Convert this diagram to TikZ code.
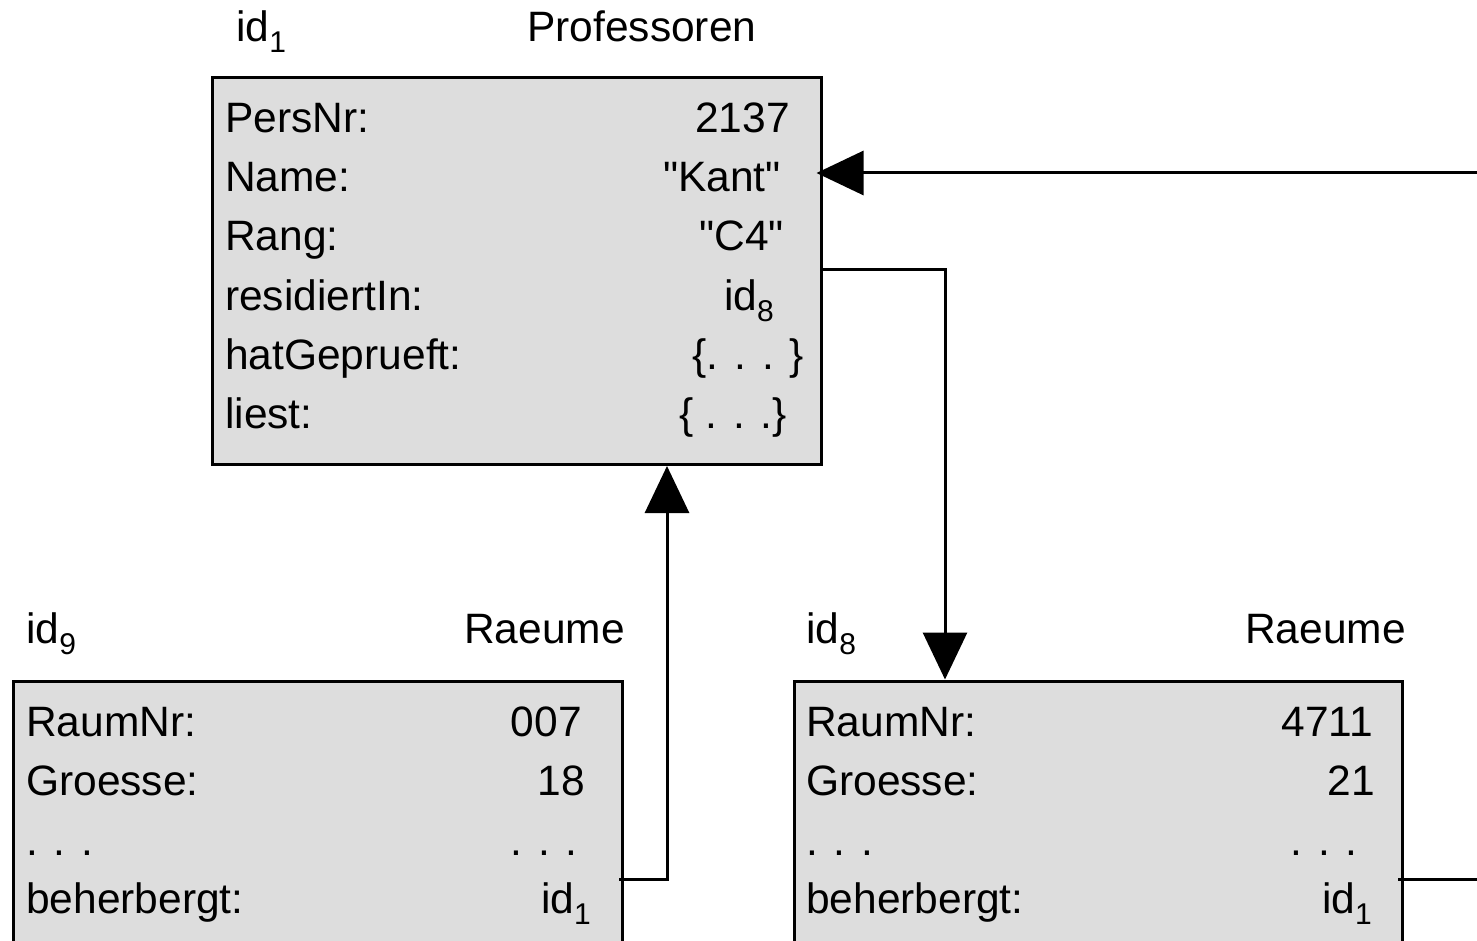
\documentclass[tikz,border=0pt]{standalone}
\usepackage{fontspec}
\newfontfamily\diagfont{Liberation Sans}
\usetikzlibrary{arrows.meta}
\definecolor{boxgray}{RGB}{221,221,221}
\newcommand\idsub[1]{\raisebox{-11pt}{\fontsize{30}{32}\selectfont #1}}
\tikzset{
  objbox/.style={draw=black, fill=boxgray, line width=3pt, rectangle, inner sep=0pt},
  lbl/.style={font=\diagfont\fontsize{42.5}{50}\selectfont, inner sep=0pt, anchor=base west},
  val/.style={font=\diagfont\fontsize{42.5}{50}\selectfont, inner sep=0pt, anchor=base east},
  conn/.style={draw=black, line width=3pt},
  arr/.style={conn, -{Triangle[length=47pt,width=44pt]}}
}
\begin{document}
\begin{tikzpicture}[x=1pt,y=-1pt]
\clip (0,0) rectangle (1477,941);
\fill[white] (0,0) rectangle (1477,941);

% boxes
\node[objbox, minimum width=609pt, minimum height=386.5pt] (prof) at (516.5,271.25) {};
\node[objbox, minimum width=608.5pt, minimum height=330pt] (r9) at (317.75,846) {};
\node[objbox, minimum width=608pt, minimum height=330pt] (r8) at (1098.5,846) {};

% headers
\node[lbl] (h1id) at (236,42) {id\idsub{1}};
\node[lbl] (h1name) at (527,42) {Professoren};
\node[lbl] (h9id) at (26,643) {id\idsub{9}};
\node[val] (h9name) at (625,643) {Raeume};
\node[lbl] (h8id) at (806,643) {id\idsub{8}};
\node[val] (h8name) at (1406,643) {Raeume};

% Professoren attributes
\node[lbl] (pa1) at (225,133) {PersNr:};
\node[lbl] (pa2) at (225,192) {Name:};
\node[lbl] (pa3) at (225,251) {Rang:};
\node[lbl] (pa4) at (225,310) {residiertIn:};
\node[lbl] (pa5) at (225,369) {hatGeprueft:};
\node[lbl] (pa6) at (225,428) {liest:};
\node[val] (pv1) at (790,133) {2137};
\node[val] (pv2) at (781,192) {"Kant"};
\node[val] (pv3) at (784,251) {"C4"};
\node[val] (pv4) at (774,310) {id\idsub{8}};
\node[val] (pv5) at (804,369) {\{. . . \}};
\node[val] (pv6) at (787,428) {\{ . . .\}};

% Raeume id9
\node[lbl] (la1) at (26,736) {RaumNr:};
\node[lbl] (la2) at (26,795) {Groesse:};
\node[lbl] (la3) at (26,855) {. . .};
\node[lbl] (la4) at (26,913) {beherbergt:};
\node[val] (lv1) at (582,736) {007};
\node[val] (lv2) at (585,795) {18};
\node[val] (lv3) at (578,855) {. . .};
\node[val] (lv4) at (591,913) {id\idsub{1}};

% Raeume id8
\node[lbl] (ra1) at (806,736) {RaumNr:};
\node[lbl] (ra2) at (806,795) {Groesse:};
\node[lbl] (ra3) at (806,855) {. . .};
\node[lbl] (ra4) at (806,913) {beherbergt:};
\node[val] (rv1) at (1373,736) {4711};
\node[val] (rv2) at (1375,795) {21};
\node[val] (rv3) at (1358,855) {. . .};
\node[val] (rv4) at (1372,913) {id\idsub{1}};

% connector end points
\coordinate (kantin) at (1490,173);
\coordinate (resout) at (821,270);
\coordinate (r8top) at (945,681);
\coordinate (b9out) at (619,879);
\coordinate (profbot) at (667,464.5);
\coordinate (b8out) at (1398,879);
\coordinate (b8free) at (1490,879);

% connectors
\draw[arr] (kantin) -- ([xshift=-6pt]kantin -| prof.east);
\draw[arr] (resout) -| (r8top |- r8.north);
\draw[arr] (b9out) -| (profbot |- prof.south);
\draw[conn] (b8out) -- (b8free);
\end{tikzpicture}
\end{document}
